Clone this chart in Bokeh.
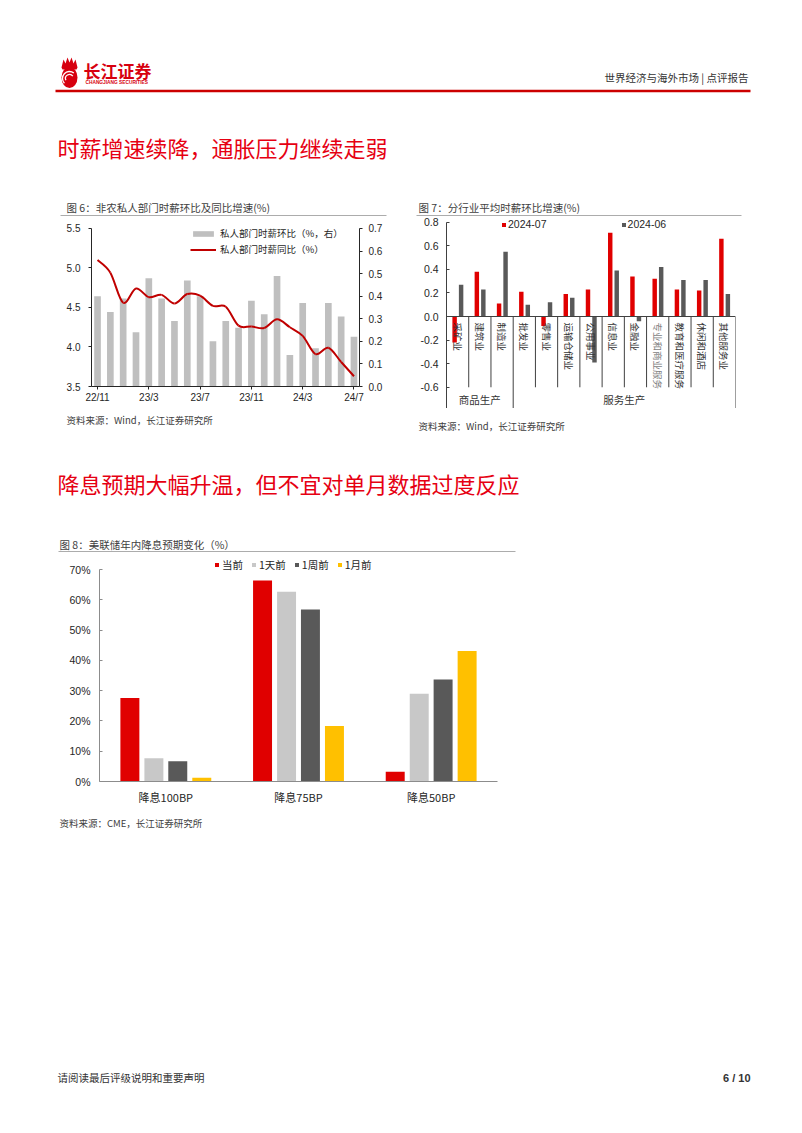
import numpy as np
from bokeh.plotting import figure
from bokeh.models import (Range1d, FactorRange, LinearAxis, FixedTicker, PrintfTickFormatter,
                          Legend, LegendItem, Span, Spacer, ColumnDataSource)
from bokeh.layouts import column, row
from bokeh.transform import dodge
from bokeh.core.properties import value
from bokeh.embed import file_html
from bokeh.resources import INLINE

# ---------------- data ----------------
months = ["22/11", "22/12", "23/1", "23/2", "23/3", "23/4", "23/5", "23/6", "23/7", "23/8",
          "23/9", "23/10", "23/11", "23/12", "24/1", "24/2", "24/3", "24/4", "24/5", "24/6", "24/7"]
wage_mom = [0.40, 0.33, 0.39, 0.24, 0.48, 0.39, 0.29, 0.47, 0.40, 0.20, 0.29,
            0.26, 0.38, 0.32, 0.49, 0.14, 0.37, 0.17, 0.37, 0.31, 0.22]
wage_yoy = [5.10, 4.94, 4.56, 4.74, 4.63, 4.66, 4.55, 4.67, 4.65, 4.52, 4.51,
            4.27, 4.26, 4.24, 4.35, 4.25, 4.14, 3.91, 3.99, 3.81, 3.63]
month_tick_step = 4

industries = ["采矿业", "建筑业", "制造业", "批发业", "零售业", "运输仓储业", "公用事业",
              "信息业", "金融业", "专业和商业服务", "教育和医疗服务", "休闲和酒店", "其他服务业"]
groups = ["商品生产", "服务生产"]
group_sizes = [3, 10]
ind_jul = [-0.22, 0.38, 0.11, 0.21, -0.08, 0.19, 0.23, 0.71, 0.34, 0.32, 0.23, 0.22, 0.66]
ind_jun = [0.27, 0.23, 0.55, 0.10, 0.12, 0.16, -0.39, 0.39, -0.04, 0.42, 0.31, 0.31, 0.19]
ind_series = ["2024-07", "2024-06"]

scenarios = ["降息100BP", "降息75BP", "降息50BP"]
prob_series = ["当前", "1天前", "1周前", "1月前"]
prob_now = [27.6, 66.4, 3.2]
prob_1d = [7.7, 62.7, 29.0]
prob_1w = [6.7, 56.8, 33.7]
prob_1m = [1.2, 18.3, 43.1]

CJK = "Noto Sans CJK SC"
LAT = "Liberation Sans"
RED = "#e60012"
TXT = "#404040"


def canvas(w, h, fill=None):
    p = figure(width=w, height=h, x_range=Range1d(0, w), y_range=Range1d(h, 0),
               x_axis_type=None, y_axis_type=None, toolbar_location=None,
               output_backend="svg", min_border=0, outline_line_color=None)
    if fill:
        p.background_fill_color = fill
        p.border_fill_color = fill
    return p


def txt(p, x, y, s, size, color=TXT, font=CJK, align="left", style="normal"):
    p.text(x=[x], y=[y], text=[s], text_font=value(font), text_font_size=f"{size}px",
           text_color=color, text_align=align, text_baseline="middle", text_font_style=style)


# ---------------- band 1: header + section title + chart titles ----------------
b1 = canvas(802, 216)
b1.ellipse(x=[69], y=[77], width=[16], height=[21], fill_color="#d7000f", line_color=None)
b1.patch(x=[61, 63, 65, 67, 69, 71, 73, 75, 77, 76, 62], y=[67, 59, 63, 57, 62, 57, 63, 59, 67, 69, 69],
         fill_color="#d7000f", line_color=None)
b1.arc(x=[69, 69], y=[78, 78], radius=[4, 7], start_angle=[0.6, 0.9], end_angle=[3.6, 3.9],
       line_color="white", line_width=1.3)
txt(b1, 83, 70, "长江证券", 17, color="#d7000f", style="bold")
txt(b1, 85, 81.5, "CHANGJIANG SECURITIES", 4.8, color="#d7000f", font=LAT, style="bold")
txt(b1, 748, 77, "世界经济与海外市场 | 点评报告", 10.5, color="#333333", align="right")
b1.segment(x0=[55], y0=[90.5], x1=[750], y1=[90.5], line_color="#cc0000", line_width=2.5)
txt(b1, 57, 146.5, "时薪增速续降，通胀压力继续走弱", 22, color=RED)
txt(b1, 66, 206.5, "图 6：非农私人部门时薪环比及同比增速(%)", 10.5)
b1.segment(x0=[60], y0=[215.5], x1=[386], y1=[215.5], line_color="#595959", line_width=1)
txt(b1, 418, 206.5, "图 7：分行业平均时薪环比增速(%)", 10.5)
b1.segment(x0=[416], y0=[215.5], x1=[741], y1=[215.5], line_color="#595959", line_width=1)

# ---------------- chart 6 ----------------
x6 = np.arange(len(months))
y6 = np.array(wage_yoy)
# frame top extended ~8px above 5.5 / 0.7 so the legend sits fully inside the frame
p6 = figure(width=326, height=189, x_range=Range1d(-0.47, len(months) - 0.57), y_range=Range1d(3.5, 5.601),
            output_backend="svg", toolbar_location=None, outline_line_color=None,
            min_border_left=31, min_border_right=27, min_border_top=4, min_border_bottom=19)
p6.extra_y_ranges = {"mom": Range1d(0, 0.7354)}
p6.xgrid.visible = False
p6.ygrid.visible = False
bars6 = p6.vbar(x=x6, top=wage_mom, bottom=0, width=0.52, y_range_name="mom",
                fill_color="#bfbfbf", line_color=None)
# smoothed line through the data points (Catmull-Rom control points)
xp = np.concatenate([[x6[0]], x6, [x6[-1]]]).astype(float)
yp = np.concatenate([[y6[0]], y6, [y6[-1]]])
cx0 = xp[1:-2] + (xp[2:-1] - xp[:-3]) / 6
cy0 = yp[1:-2] + (yp[2:-1] - yp[:-3]) / 6
cx1 = xp[2:-1] - (xp[3:] - xp[1:-2]) / 6
cy1 = yp[2:-1] - (yp[3:] - yp[1:-2]) / 6
line6 = p6.bezier(x0=x6[:-1], y0=y6[:-1], x1=x6[1:], y1=y6[1:], cx0=cx0, cy0=cy0, cx1=cx1, cy1=cy1,
                  line_color="#c00000", line_width=2)

xa = p6.xaxis[0]
xa.ticker = FixedTicker(ticks=[float(i) for i in x6[::month_tick_step]])
xa.major_label_overrides = {float(i): months[i] for i in x6[::month_tick_step]}
ya = p6.yaxis[0]
ya.ticker = FixedTicker(ticks=[3.5, 4.0, 4.5, 5.0, 5.5])
ya.formatter = PrintfTickFormatter(format="%.1f")
ya.bounds = (3.5, 5.5)
ra = LinearAxis(y_range_name="mom", ticker=FixedTicker(ticks=[round(v, 1) for v in np.arange(0, 0.71, 0.1)]),
                formatter=PrintfTickFormatter(format="%.1f"), bounds=(0, 0.7))
p6.add_layout(ra, "right")
for ax in [xa, ya, ra]:
    ax.axis_line_color = "#262626"
    ax.major_tick_line_color = "#262626"
    ax.minor_tick_line_color = None
    ax.major_tick_out = 3
    ax.major_tick_in = 0
    ax.major_label_text_font = LAT
    ax.major_label_text_font_size = "10px"
    ax.major_label_text_color = "#262626"
xa.major_label_standoff = 2
ya.major_label_standoff = 8
ra.major_label_standoff = 6
leg6 = Legend(items=[LegendItem(label="私人部门时薪环比（%，右）", renderers=[bars6]),
                     LegendItem(label="私人部门时薪同比（%）", renderers=[line6])],
              location=(99, 130), orientation="vertical", padding=0, margin=0, spacing=2,
              glyph_width=26, glyph_height=7, label_height=14, label_width=140, label_standoff=4,
              label_text_font=CJK, label_text_font_size="9.5px", label_text_color="#262626",
              background_fill_alpha=0, border_line_color=None)
p6.add_layout(leg6)
rule6 = canvas(326, 2, fill="#404040")

# ---------------- chart 7 ----------------
x7 = np.arange(len(industries))
src7 = ColumnDataSource(dict(x=x7, jul=ind_jul, jun=ind_jun))
p7 = figure(width=325, height=192, x_range=Range1d(-0.5, len(industries) - 0.5), y_range=Range1d(-0.78, 0.848),
            x_axis_type=None, output_backend="svg", toolbar_location=None, outline_line_color=None,
            min_border_left=30, min_border_right=6, min_border_top=0, min_border_bottom=0)
p7.ygrid.visible = False
r_jul = p7.vbar(x=dodge("x", -0.135), top="jul", width=0.2, source=src7, fill_color="#e00000", line_color=None)
r_jun = p7.vbar(x=dodge("x", 0.157), top="jun", width=0.2, source=src7, fill_color="#595959", line_color=None)
p7.add_layout(Span(location=0, dimension="width", line_color=TXT, line_width=1))
bounds = list(x7 + 0.5)
group_edges = list(np.cumsum(group_sizes) - 0.5)
p7.segment(x0=bounds, y0=0, x1=bounds, y1=[-0.78 if b in group_edges else -0.6 for b in bounds],
           line_color=TXT, line_width=1)
lab_colors = ["#7f7f7f" if s == "专业和商业服务" else "#333333" for s in industries]
p7.text(x=x7, y=-0.05, text=industries, angle=-np.pi / 2, text_align="left", text_baseline="middle",
        text_font=value(CJK), text_font_size="9.5px", text_color=lab_colors)
starts = np.concatenate([[0], np.cumsum(group_sizes)[:-1]])
centers = [s + (n - 1) / 2 for s, n in zip(starts, group_sizes)]
p7.text(x=centers, y=-0.70, text=groups, text_align="center", text_baseline="middle",
        text_font=value(CJK), text_font_size="10.5px", text_color="#333333")
ya7 = p7.yaxis[0]
ya7.ticker = FixedTicker(ticks=[round(v, 1) for v in np.arange(-0.6, 0.81, 0.2)])
ya7.formatter = PrintfTickFormatter(format="%.1f")
ya7.bounds = (-0.78, 0.8)
ya7.axis_line_color = TXT
ya7.major_tick_line_color = TXT
ya7.minor_tick_line_color = None
ya7.major_tick_in = 3
ya7.major_tick_out = 0
ya7.major_label_standoff = 8
ya7.major_label_text_font = LAT
ya7.major_label_text_font_size = "10.5px"
ya7.major_label_text_color = "#262626"
leg7 = Legend(items=[LegendItem(label=ind_series[0], renderers=[r_jul]),
                     LegendItem(label=ind_series[1], renderers=[r_jun])],
              orientation="horizontal", location=(55, 178), padding=0, margin=0, spacing=74,
              glyph_width=5, glyph_height=5, label_height=12, label_standoff=2,
              label_text_font=LAT, label_text_font_size="10.5px", label_text_color="#262626",
              background_fill_alpha=0, border_line_color=None)
p7.add_layout(leg7)
rule7 = canvas(325, 2, fill="#404040")

# ---------------- band 2 ----------------
b2 = canvas(802, 142)
txt(b2, 66, 9, "资料来源：Wind，长江证券研究所", 9.5)
txt(b2, 418, 15, "资料来源：Wind，长江证券研究所", 9.5)
txt(b2, 57, 72.5, "降息预期大幅升温，但不宜对单月数据过度反应", 22, color=RED)
txt(b2, 59, 133.5, "图 8：美联储年内降息预期变化（%）", 10.5)
b2.segment(x0=[58], y0=[141.5], x1=[515], y1=[141.5], line_color="#595959", line_width=1)

# ---------------- chart 8 ----------------
src8 = ColumnDataSource(dict(cat=scenarios, now=prob_now, d1=prob_1d, w1=prob_1w, m1=prob_1m))
p8 = figure(width=457, height=255, x_range=FactorRange(*scenarios), y_range=Range1d(0, 74),
            output_backend="svg", toolbar_location=None, outline_line_color=None,
            min_border_left=41, min_border_right=18, min_border_top=5, min_border_bottom=26)
p8.xgrid.visible = False
p8.ygrid.visible = False
keys = ["now", "d1", "w1", "m1"]
offsets = [-0.271, -0.090, 0.090, 0.271]
colors8 = ["#e00000", "#c8c8c8", "#595959", "#ffc000"]
items8 = []
for k, lab, off, c in zip(keys, prob_series, offsets, colors8):
    r = p8.vbar(x=dodge("cat", off, range=p8.x_range), top=k, width=0.143, source=src8,
                fill_color=c, line_color=None)
    items8.append(LegendItem(label=lab, renderers=[r]))
ya8 = p8.yaxis[0]
ya8.ticker = FixedTicker(ticks=list(range(0, 71, 10)))
ya8.formatter = PrintfTickFormatter(format="%d%%")
ya8.bounds = (0, 70)
ya8.major_tick_in = 3
ya8.major_tick_out = 0
ya8.major_label_standoff = 9
ya8.major_label_text_font = LAT
ya8.major_label_text_font_size = "10.5px"
xa8 = p8.xaxis[0]
xa8.major_tick_in = 0
xa8.major_tick_out = 0
xa8.major_label_standoff = 7
xa8.major_label_text_font = CJK
xa8.major_label_text_font_size = "11px"
for ax in [ya8, xa8]:
    ax.axis_line_color = "#8c8c8c"
    ax.major_tick_line_color = "#8c8c8c"
    ax.minor_tick_line_color = None
    ax.major_label_text_color = "#262626"
leg8 = Legend(items=items8, orientation="horizontal", location=(115, 209), padding=0, margin=0, spacing=8,
              glyph_width=5, glyph_height=5, label_height=13, label_standoff=3,
              label_text_font=CJK, label_text_font_size="10.5px", label_text_color="#262626",
              background_fill_alpha=0, border_line_color=None)
p8.add_layout(leg8)
rule8 = canvas(457, 2, fill="#404040")

# ---------------- band 3 ----------------
b3 = canvas(802, 324)
txt(b3, 59, 13.5, "资料来源：CME，长江证券研究所", 9.5)
txt(b3, 57, 268, "请阅读最后评级说明和重要声明", 10.5, color="#333333")
txt(b3, 750, 268, "6 / 10", 11, color="#333333", font=LAT, align="right", style="bold")

row1 = row(Spacer(width=60, height=194), column(p6, rule6), Spacer(width=30, height=194), column(p7, rule7))
row3 = row(Spacer(width=58, height=257), column(p8, rule8))
page = column(b1, row1, b2, row3, b3)

open("out.html", "w").write(file_html(page, INLINE))
